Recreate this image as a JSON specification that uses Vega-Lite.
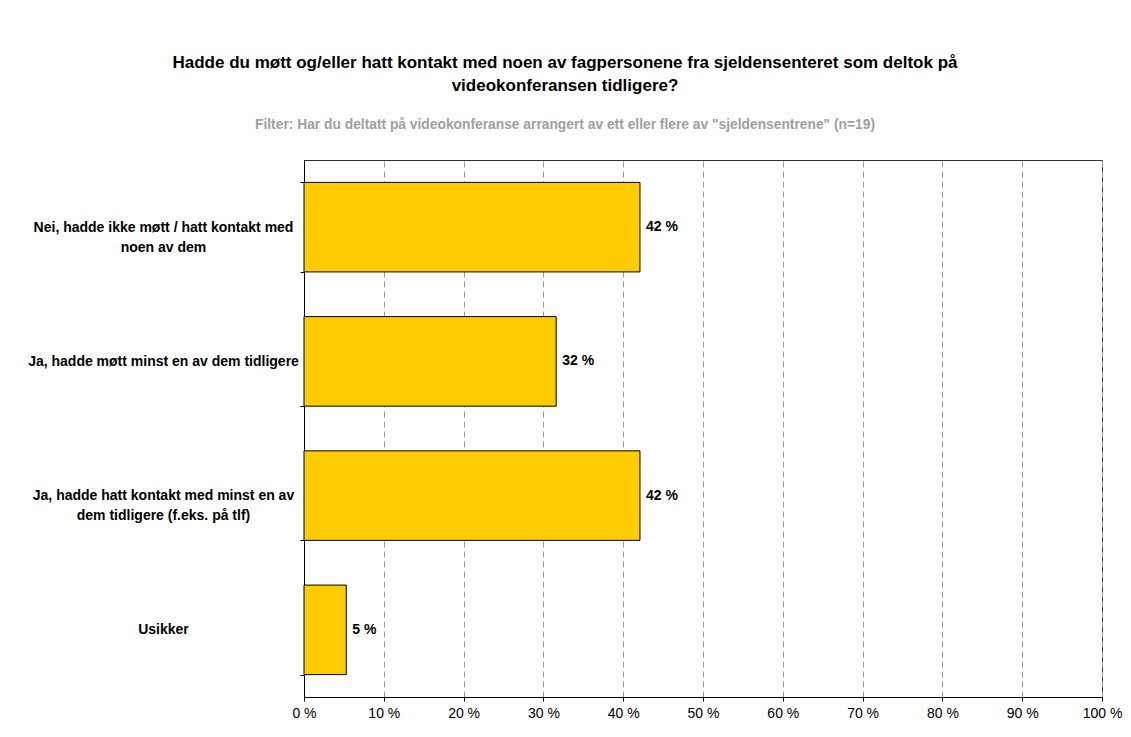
{
  "$schema": "https://vega.github.io/schema/vega-lite/v6.json",
  "width": 798,
  "height": 537,
  "autosize": {"type": "none"},
  "padding": {"left": 304, "top": 160, "right": 29, "bottom": 40},
  "background": "white",
  "title": {
    "text": ["Hadde du møtt og/eller hatt kontakt med noen av fagpersonene fra sjeldensenteret som deltok på", "videokonferansen tidligere?"],
    "subtitle": "Filter: Har du deltatt på videokonferanse arrangert av ett eller flere av \"sjeldensentrene\" (n=19)",
    "anchor": "middle",
    "frame": "group",
    "dx": -138,
    "font": "Liberation Sans",
    "fontSize": 17,
    "fontWeight": "bold",
    "color": "black",
    "lineHeight": 23,
    "subtitleFont": "Liberation Sans",
    "subtitleFontSize": 13.8,
    "subtitleFontWeight": "bold",
    "subtitleColor": "#A0A0A0",
    "subtitlePadding": 23,
    "offset": 20
  },
  "data": {
    "values": [
      {"svar": "Nei, hadde ikke møtt / hatt kontakt med noen av dem", "prosent": 42.1, "etikett": "42 %"},
      {"svar": "Ja, hadde møtt minst en av dem tidligere", "prosent": 31.6, "etikett": "32 %"},
      {"svar": "Ja, hadde hatt kontakt med minst en av dem tidligere (f.eks. på tlf)", "prosent": 42.1, "etikett": "42 %"},
      {"svar": "Usikker", "prosent": 5.3, "etikett": "5 %"}
    ]
  },
  "encoding": {
    "y": {
      "field": "svar",
      "type": "nominal",
      "sort": null,
      "scale": {"paddingInner": 0.333, "paddingOuter": 0.1667},
      "axis": {
        "title": null,
        "tickBand": "extent",
        "tickSize": 4,
        "tickColor": "#000",
        "domainColor": "#000",
        "labelAlign": "center",
        "labelBaseline": "middle",
        "labelPadding": 137,
        "labelFont": "Liberation Sans",
        "labelFontSize": 14,
        "labelFontWeight": "bold",
        "labelColor": "#000",
        "labelLineHeight": 20,
        "labelLimit": 400,
        "grid": false,
        "labelExpr": "datum.label == 'Nei, hadde ikke møtt / hatt kontakt med noen av dem' ? ['Nei, hadde ikke møtt / hatt kontakt med', 'noen av dem'] : datum.label == 'Ja, hadde hatt kontakt med minst en av dem tidligere (f.eks. på tlf)' ? ['Ja, hadde hatt kontakt med minst en av', 'dem tidligere (f.eks. på tlf)'] : datum.label"
      }
    },
    "x": {
      "field": "prosent",
      "type": "quantitative",
      "scale": {"domain": [0, 100], "nice": false},
      "axis": {
        "title": null,
        "values": [0, 10, 20, 30, 40, 50, 60, 70, 80, 90, 100],
        "labelExpr": "datum.value + ' %'",
        "labelFont": "Liberation Sans",
        "labelFontSize": 14,
        "labelColor": "#000",
        "labelPadding": 5,
        "tickSize": 4,
        "tickColor": "#000",
        "domainColor": "#000",
        "grid": true,
        "gridColor": "#999",
        "gridDash": [6, 4],
        "labelFlush": false
      }
    }
  },
  "layer": [
    {
      "mark": {"type": "bar", "fill": "#FFCC00", "stroke": "#000", "strokeWidth": 1}
    },
    {
      "mark": {"type": "text", "align": "left", "baseline": "middle", "dx": 6, "font": "Liberation Sans", "fontSize": 14, "fontWeight": "bold", "color": "#000"},
      "encoding": {"text": {"field": "etikett"}}
    }
  ],
  "config": {
    "view": {"stroke": "#333", "strokeWidth": 1}
  }
}
